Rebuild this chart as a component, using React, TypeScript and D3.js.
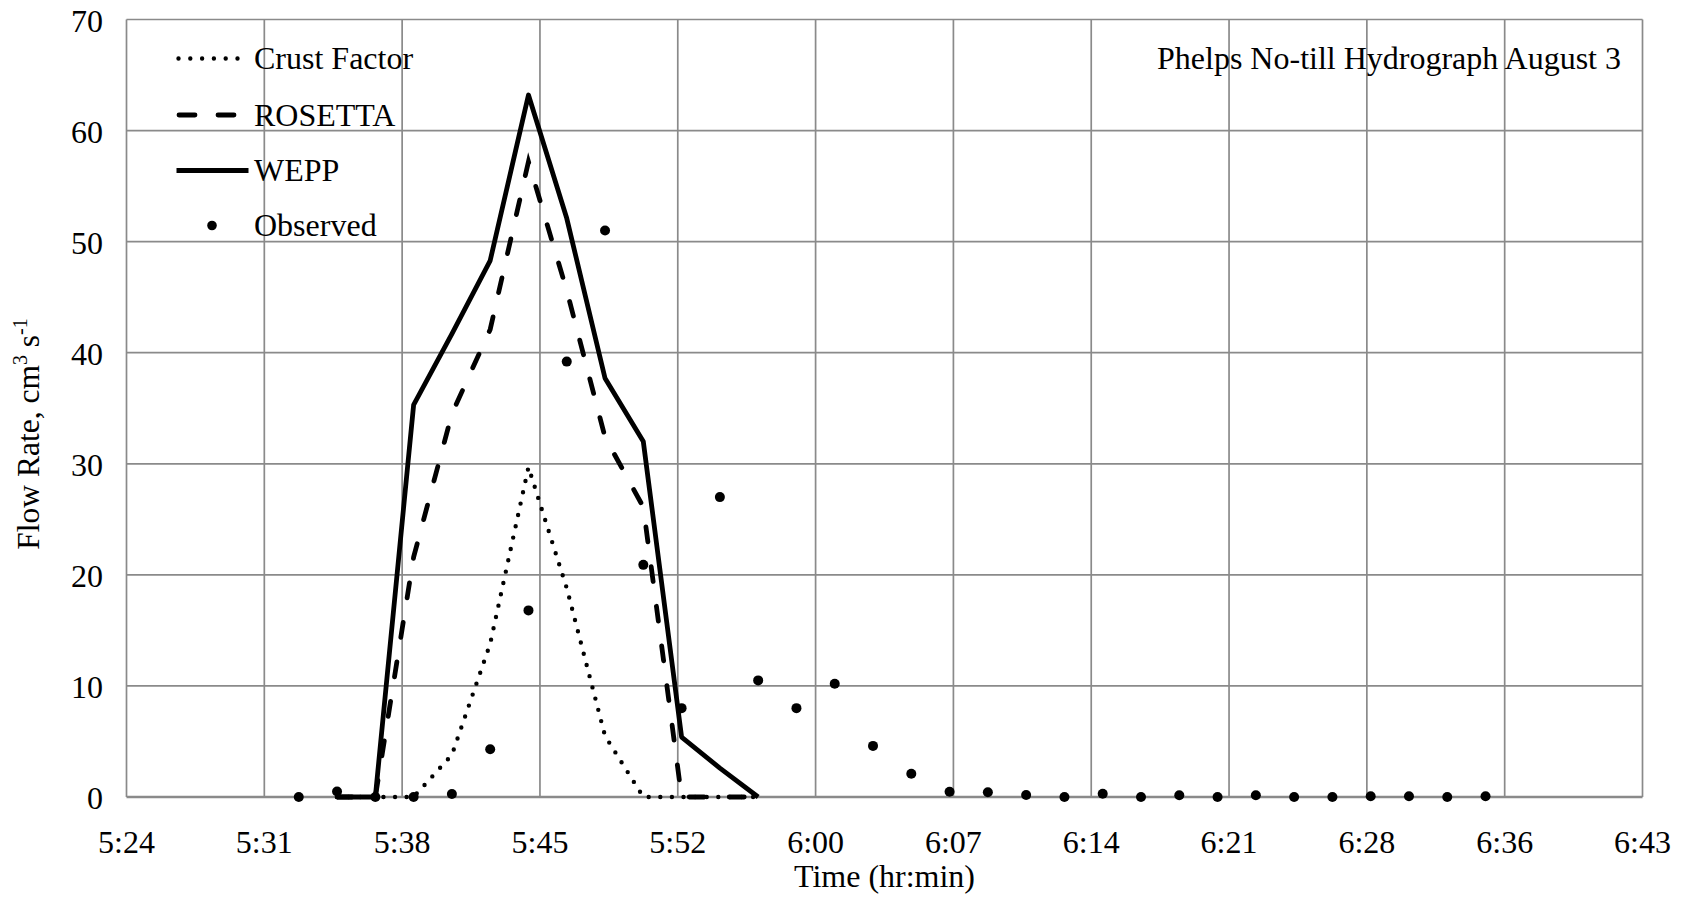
import React from "react";
import * as d3 from "d3";

// ---- data ----
const modelTimes = ["5:35", "5:37", "5:39", "5:41", "5:43", "5:45", "5:47", "5:49", "5:51", "5:53", "5:55", "5:57"];
const crustFactor = [0, 0, 0, 3.8, 13.8, 29.7, 18.8, 5.5, 0, 0, 0, 0];
const rosetta = [0, 0, 21.6, 34.5, 42.1, 57.2, 45.6, 32.4, 26.1, 0, 0, 0];
const wepp = [0, 0, 35.3, 41.7, 48.3, 63.2, 52.1, 37.7, 32.0, 5.4, 2.6, 0];

const observedTimes = [
  "5:33", "5:35", "5:37", "5:39", "5:41", "5:43", "5:45", "5:47", "5:49", "5:51",
  "5:53", "5:55", "5:57", "5:59", "6:01", "6:03", "6:05", "6:07", "6:09", "6:11",
  "6:13", "6:15", "6:17", "6:19", "6:21", "6:23", "6:25", "6:27", "6:29", "6:31",
  "6:33", "6:35",
];
const observed = [
  0, 0.5, 0, 0, 0.27, 4.3, 16.8, 39.2, 51.0, 20.9,
  8.0, 27.0, 10.5, 8.0, 10.2, 4.6, 2.1, 0.48, 0.42, 0.18,
  0, 0.3, 0, 0.15, 0, 0.15, 0, 0, 0.07, 0.07,
  0, 0.07,
];

// x axis ticks (minutes after midnight) and their labels
const xTickMinutes = [324, 331.2, 338.4, 345.6, 352.8, 360, 367.2, 374.4, 381.6, 388.8, 396, 403.2];
const xTickLabels = ["5:24", "5:31", "5:38", "5:45", "5:52", "6:00", "6:07", "6:14", "6:21", "6:28", "6:36", "6:43"];
const yTicks = [0, 10, 20, 30, 40, 50, 60, 70];

const legendLabels = ["Crust Factor", "ROSETTA", "WEPP", "Observed"];
const chartTitle = "Phelps No-till Hydrograph August 3";

const toMin = (s: string) => {
  const [h, m] = s.split(":").map(Number);
  return h * 60 + m;
};

const W = 1681;
const H = 899;
const PL = 126.5;
const PR = 1642.5;
const PT = 19.5;
const PB = 797;
const FONT = "'Liberation Serif', 'Times New Roman', serif";
const GRID = "#8a8a8a";
const FS = 32;

export default function App() {
  const x = d3.scaleLinear().domain([xTickMinutes[0], xTickMinutes[xTickMinutes.length - 1]]).range([PL, PR]);
  const y = d3.scaleLinear().domain([0, 70]).range([PB, PT]);

  const line = d3
    .line<{ t: number; v: number }>()
    .x((d) => x(d.t))
    .y((d) => y(d.v));

  const mk = (vals: number[]) => modelTimes.map((t, i) => ({ t: toMin(t), v: vals[i] }));
  const obsPts = observedTimes.map((t, i) => ({ t: toMin(t), v: observed[i] }));

  const crustStyle = { stroke: "#000", strokeWidth: 4.4, strokeDasharray: "0 11.6", strokeLinecap: "round" as const, fill: "none" };
  const rosStyle = { stroke: "#000", strokeWidth: 4.8, strokeDasharray: "15 25", strokeLinecap: "round" as const, fill: "none" };
  const weppStyle = { stroke: "#000", strokeWidth: 4.8, fill: "none", strokeLinejoin: "round" as const };

  const legendY = [58.5, 115, 170.5, 225.5];

  return (
    <svg
      width={W}
      height={H}
      style={{ position: "absolute", left: 0, top: 0, background: "#fff" }}
      fontFamily={FONT}
    >
      <rect x={0} y={0} width={W} height={H} fill="#fff" />
      {/* grid */}
      {xTickMinutes.map((t, i) => (
        <line key={"gx" + i} x1={x(t)} x2={x(t)} y1={PT} y2={PB} stroke={GRID} strokeWidth={1.7} />
      ))}
      {yTicks.map((v, i) => (
        <line key={"gy" + i} x1={PL} x2={PR} y1={y(v)} y2={y(v)} stroke={GRID} strokeWidth={v === 0 ? 2.4 : 1.7} />
      ))}

      {/* tick labels */}
      {yTicks.map((v, i) => (
        <text key={"yl" + i} x={103} y={y(v) + 12} textAnchor="end" fontSize={FS} fill="#000">
          {v}
        </text>
      ))}
      {xTickMinutes.map((t, i) => (
        <text key={"xl" + i} x={x(t)} y={853} textAnchor="middle" fontSize={FS} fill="#000">
          {xTickLabels[i]}
        </text>
      ))}

      {/* axis titles */}
      <text x={(PL + PR) / 2} y={887} textAnchor="middle" fontSize={FS} fill="#000">
        Time (hr:min)
      </text>
      <text transform="translate(39,434) rotate(-90)" textAnchor="middle" fontSize={31.5} fill="#000">
        Flow Rate, cm
        <tspan fontSize={20} dy={-12}>3</tspan>
        <tspan dy={12}> s</tspan>
        <tspan fontSize={20} dy={-12}>-1</tspan>
      </text>

      {/* chart title */}
      <text x={1621} y={69} textAnchor="end" fontSize={FS} fill="#000">
        {chartTitle}
      </text>

      {/* series */}
      <path d={line(mk(crustFactor)) || ""} {...crustStyle} />
      <path d={line(mk(rosetta)) || ""} {...rosStyle} />
      <path d={line(mk(wepp)) || ""} {...weppStyle} />
      {obsPts.map((p, i) => (
        <circle key={"o" + i} cx={x(p.t)} cy={y(p.v)} r={5} fill="#000" />
      ))}

      {/* legend */}
      <line x1={178.5} x2={238} y1={legendY[0]} y2={legendY[0]} {...crustStyle} strokeDasharray="0 11.8" />
      <line x1={179} x2={238} y1={legendY[1]} y2={legendY[1]} {...rosStyle} strokeDasharray="16 23" />
      <line x1={176.5} x2={248.5} y1={legendY[2]} y2={legendY[2]} {...weppStyle} />
      <circle cx={212} cy={legendY[3]} r={4.8} fill="#000" />
      {legendLabels.map((l, i) => (
        <text key={"lg" + i} x={254} y={legendY[i] + 10.5} fontSize={FS} fill="#000">
          {l}
        </text>
      ))}
    </svg>
  );
}
